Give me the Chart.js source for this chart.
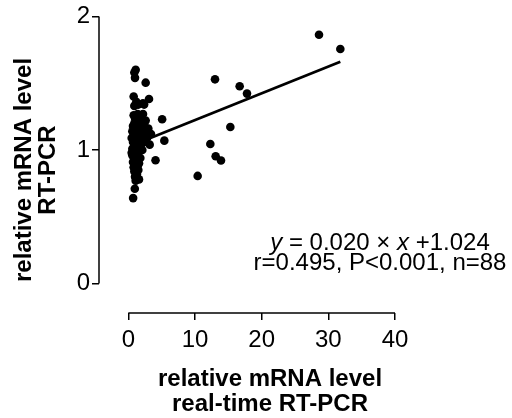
<!DOCTYPE html>
<html><head><meta charset="utf-8">
<script src="https://cdn.jsdelivr.net/npm/chart.js@4"></script>
<style>html,body{margin:0;padding:0;background:#fff}</style>
</head><body>
<canvas id="c" width="512" height="418" style="display:block"></canvas>
<script>
// ---- data ----
const xVals = [
  1.1,0.9,1.0,
  0.8,1.2,2.2,0.9,1.5,
  1.4,2.2,1.0,1.8,2.6,
  0.9,1.5,2.0,2.5,3.0,1.2,0.6,
  1.7,2.3,3.4,0.8,1.3,2.0,2.8,0.5,
  1.0,1.6,2.4,0.7,1.2,3.2,1.9,0.9,
  1.4,0.6,1.1,2.1,0.8,1.5,1.0,0.6,
  1.3,1.8,0.9,1.2,0.7,1.6,1.0,1.4,
  0.8,1.1,1.5,0.9,1.3,1.0,1.6,1.1,
  0.97,0.72,
  1.2,0.7,1.9,1.1,0.5,1.7,2.6,1.3,0.8,2.0,
  28.6,31.8,13.0,16.7,17.8,15.3,12.3,13.1,13.9,10.4,
  5.07,5.4,4.08,3.1,2.6,2.37
];
const yVals = [
  1.60,1.58,1.54,
  1.40,1.36,1.35,1.33,1.34,
  1.27,1.27,1.24,1.23,1.22,
  1.20,1.19,1.18,1.17,1.16,1.15,1.14,
  1.13,1.13,1.12,1.11,1.10,1.10,1.09,1.09,
  1.08,1.07,1.06,1.06,1.05,1.04,1.04,1.03,
  1.02,1.01,1.00,1.00,0.99,0.98,0.97,0.96,
  0.95,0.94,0.93,0.92,0.91,0.90,0.89,0.88,
  0.87,0.86,0.85,0.84,0.82,0.80,0.78,0.77,
  0.71,0.64,
  1.12,1.18,1.15,1.03,0.98,1.01,1.11,0.90,1.26,1.07,
  1.863,1.756,1.529,1.477,1.422,1.172,1.045,0.953,0.921,0.806,
  1.23,1.07,0.923,1.382,1.504,1.34
];
const fitX = [0.5, 31.8];
const fitY = [1.034, 1.660];
const xTicks = [0, 10, 20, 30, 40];
const yTicks = [0, 1, 2];
const xTitle = ['relative mRNA level', 'real-time RT-PCR'];
const yTitle = ['relative mRNA level', 'RT-PCR'];
const eqParts = [['y', true], [' = 0.020 \u00d7 ', false], ['x', true], [' +1.024', false]];
const statLine = 'r=0.495, P<0.001, n=88';

const FONT = '"Liberation Sans", Arial, sans-serif';

const overlay = {
  id: 'overlay',
  afterDraw(chart) {
    const ctx = chart.ctx;
    const xs = chart.scales.x, ys = chart.scales.y;
    ctx.save();
    ctx.strokeStyle = '#000';
    ctx.lineWidth = 1.5;
    // detached axis lines
    const yl = chart.chartArea.left;
    ctx.beginPath();
    ctx.moveTo(yl, ys.getPixelForValue(yTicks[0]));
    ctx.lineTo(yl, ys.getPixelForValue(yTicks[yTicks.length - 1]));
    ctx.stroke();
    const xb = chart.chartArea.bottom;
    ctx.beginPath();
    ctx.moveTo(xs.getPixelForValue(xTicks[0]), xb);
    ctx.lineTo(xs.getPixelForValue(xTicks[xTicks.length - 1]), xb);
    ctx.stroke();

    ctx.fillStyle = '#000';
    // x title
    ctx.font = 'bold 24px ' + FONT;
    ctx.textAlign = 'center';
    ctx.textBaseline = 'alphabetic';
    ctx.fillText(xTitle[0], 270, 386);
    ctx.fillText(xTitle[1], 270, 411);
    // y title
    const yb = [31, 55];
    yTitle.forEach((t, i) => {
      ctx.save();
      ctx.translate(yb[i], 170);
      ctx.rotate(-Math.PI / 2);
      ctx.fillText(t, 0, 0);
      ctx.restore();
    });
    // annotation
    const reg = '24px ' + FONT, ital = 'italic 24px ' + FONT;
    let w = 0;
    eqParts.forEach(([s, it]) => { ctx.font = it ? ital : reg; w += ctx.measureText(s).width; });
    let cx = 380 - w / 2;
    ctx.textAlign = 'left';
    eqParts.forEach(([s, it]) => {
      ctx.font = it ? ital : reg;
      ctx.fillText(s, cx, 250);
      cx += ctx.measureText(s).width;
    });
    ctx.font = reg;
    ctx.textAlign = 'center';
    ctx.fillText(statLine, 380, 270);
    ctx.restore();
  }
};

new Chart(document.getElementById('c'), {
  type: 'scatter',
  data: {
    datasets: [
      {
        data: xVals.map((x, i) => ({ x: x, y: yVals[i] })),
        pointRadius: 4.3,
        pointBackgroundColor: '#000',
        pointBorderWidth: 0,
        borderColor: '#000'
      },
      {
        type: 'line',
        data: fitX.map((x, i) => ({ x: x, y: fitY[i] })),
        borderColor: '#000',
        borderWidth: 2.8,
        pointRadius: 0,
        fill: false
      }
    ]
  },
  options: {
    responsive: false,
    animation: false,
    devicePixelRatio: 1,
    layout: { padding: { top: 16, right: 117, left: 0, bottom: 0 } },
    plugins: { legend: { display: false }, tooltip: { enabled: false } },
    scales: {
      x: {
        type: 'linear',
        min: -4.4, max: 40,
        afterBuildTicks: s => { s.ticks = xTicks.map(v => ({ value: v })); },
        afterFit: s => { s.height = 105; },
        grid: { drawOnChartArea: false, drawTicks: true, tickLength: 7, color: '#000', lineWidth: 1.5 },
        border: { display: false },
        ticks: { color: '#000', font: { family: FONT, size: 24 }, padding: 6, autoSkip: false, maxRotation: 0 }
      },
      y: {
        type: 'linear',
        min: -0.22, max: 2,
        afterBuildTicks: s => { s.ticks = yTicks.map(v => ({ value: v })); },
        afterFit: s => { s.width = 99; },
        grid: { drawOnChartArea: false, drawTicks: true, tickLength: 7, color: '#000', lineWidth: 1.5 },
        border: { display: false },
        ticks: { color: '#000', font: { family: FONT, size: 24 }, padding: 2 }
      }
    }
  },
  plugins: [overlay]
});
</script>
</body></html>
